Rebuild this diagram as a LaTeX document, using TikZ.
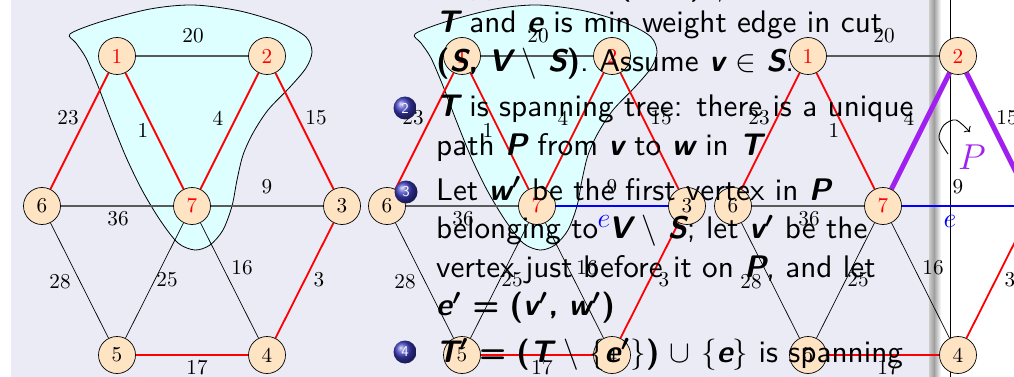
\RequirePackage{fix-cm}
\documentclass[tikz,border=0pt]{standalone}
\usepackage{amsmath}
\usetikzlibrary{arrows.meta}
\definecolor{lav}{RGB}{235,235,246}
\definecolor{bisq}{RGB}{255,228,196}
\definecolor{blobc}{RGB}{222,255,255}
\definecolor{edgegray}{RGB}{90,90,90}
\definecolor{purp}{RGB}{160,32,240}
\definecolor{ballc}{RGB}{60,60,190}
\pgfdeclarelayer{bg}
\pgfdeclarelayer{blob}
\pgfdeclarelayer{edges}
\pgfdeclarelayer{fg}
\pgfsetlayers{bg,blob,edges,main,fg}
\newcommand\numf[1]{\scalebox{2}{\fontsize{10.6}{12}\selectfont #1}}
\newcommand\sz[1]{\scalebox{3}{\sffamily\fontsize{10.4}{12}\selectfont #1}}
\tikzset{
  vtx/.style={circle, draw=black, line width=0.7pt, fill=bisq, minimum size=37pt, inner sep=0pt},
  inS/.style={text=red},
  elab/.style={inner sep=0pt},
  redE/.style={red, line width=1.8pt},
  grayE/.style={edgegray, line width=1.3pt},
  blkE/.style={black, line width=0.7pt},
  blueE/.style={blue, line width=2.8pt},
  purpE/.style={purp, line width=5pt},
  blobs/.style={draw=black, line width=0.8pt, fill=blobc},
  txt/.style={anchor=base west, inner sep=0pt},
  ballnode/.style={circle, shading=ball, ball color=ballc, minimum size=23pt, inner sep=0pt, text=white, font=\sffamily\fontsize{15}{15}\selectfont},
}
\newcommand\mv[1]{{\bfseries\slshape #1}}
\newcommand\bp[1]{{\bfseries #1}}
\newcommand\prm{\ensuremath{^{\boldsymbol{\prime}}}}
\newcommand\gnodes[2]{%
\begin{scope}[xshift=#2]
\node[vtx,inS] (#1-1) at (117,56) {\numf{1}};
\node[vtx,inS] (#1-2) at (267,56) {\numf{2}};
\node[vtx] (#1-6) at (42,206) {\numf{6}};
\node[vtx,inS] (#1-7) at (192,206) {\numf{7}};
\node[vtx] (#1-3) at (342,206) {\numf{3}};
\node[vtx] (#1-5) at (117,355) {\numf{5}};
\node[vtx] (#1-4) at (267,355) {\numf{4}};
\node[elab] (#1-w20) at (193,36) {\numf{20}};
\node[elab] (#1-w23) at (68,118) {\numf{23}};
\node[elab] (#1-w1) at (143,130) {\numf{1}};
\node[elab] (#1-w4) at (218,118) {\numf{4}};
\node[elab] (#1-w15) at (316,118) {\numf{15}};
\node[elab] (#1-w9) at (267,187) {\numf{9}};
\node[elab] (#1-w36) at (118,219) {\numf{36}};
\node[elab] (#1-w28) at (60,282) {\numf{28}};
\node[elab] (#1-w25) at (167,280) {\numf{25}};
\node[elab] (#1-w16) at (242,268) {\numf{16}};
\node[elab] (#1-w3) at (319,280) {\numf{3}};
\node[elab] (#1-w17) at (197,368) {\numf{17}};
\end{scope}}
\newcommand\blobpath{plot[smooth cycle,tension=0.5] coordinates {(70,34) (100,22) (150,9) (193,5) (240,11) (283,24) (306,37) (312,52) (306,68) (290,87) (268,110) (253,133) (243,155) (237,180) (232,206) (223,230) (210,245) (195,250) (178,243) (160,220) (142,190) (126,157) (111,120) (98,86) (86,58) (76,43)}}
\begin{document}
\begin{tikzpicture}[x=1pt,y=-1pt]
\useasboundingbox (0,0) rectangle (1014,377);
\begin{pgfonlayer}{bg}
\fill[white] (0,0) rectangle (1014,377);
\fill[lav] (11,0) rectangle (929,377);
\shade[left color=gray!40, right color=gray!75] (929,0) rectangle (934,377);
\shade[left color=gray!75, right color=white] (934,0) rectangle (941,377);
\draw[line width=0.8pt] (950,0) -- (950,377);
\end{pgfonlayer}
\begin{pgfonlayer}{blob}
\draw[blobs] \blobpath;
\begin{scope}[xshift=345pt]
\draw[blobs] \blobpath;
\end{scope}
\end{pgfonlayer}
\gnodes{A}{0pt}
\gnodes{B}{345pt}
\gnodes{C}{691pt}
\begin{pgfonlayer}{edges}
% copy A
\draw[redE] (A-1) -- (A-6);
\draw[redE] (A-1) -- (A-7);
\draw[redE] (A-2) -- (A-7);
\draw[redE] (A-2) -- (A-3);
\draw[redE] (A-3) -- (A-4);
\draw[redE] (A-4) -- (A-5);
\draw[grayE] (A-1) -- (A-2);
\draw[grayE] (A-6) -- (A-7);
\draw[grayE] (A-7) -- (A-3);
\draw[blkE] (A-6) -- (A-5);
\draw[blkE] (A-7) -- (A-5);
\draw[blkE] (A-7) -- (A-4);
% copy B
\draw[redE] (B-1) -- (B-6);
\draw[redE] (B-1) -- (B-7);
\draw[redE] (B-2) -- (B-7);
\draw[redE] (B-2) -- (B-3);
\draw[redE] (B-3) -- (B-4);
\draw[redE] (B-4) -- (B-5);
\draw[grayE] (B-1) -- (B-2);
\draw[grayE] (B-6) -- (B-7);
\draw[blueE] (B-7) -- (B-3);
\draw[blkE] (B-6) -- (B-5);
\draw[blkE] (B-7) -- (B-5);
\draw[blkE] (B-7) -- (B-4);
% copy C
\draw[redE] (C-1) -- (C-6);
\draw[redE] (C-1) -- (C-7);
\draw[purpE] (C-7) -- (C-2);
\draw[purpE] (C-2) -- (C-3);
\draw[redE] (C-3) -- (C-4);
\draw[redE] (C-4) -- (C-5);
\draw[grayE] (C-1) -- (C-2);
\draw[grayE] (C-6) -- (C-7);
\draw[blueE] (C-7) -- (C-3);
\draw[blkE] (C-6) -- (C-5);
\draw[blkE] (C-7) -- (C-5);
\draw[blkE] (C-7) -- (C-4);
\end{pgfonlayer}
\node[blue, inner sep=0pt, font=\fontsize{28}{30}\selectfont] (eB) at (604,221) {$e$};
\node[blue, inner sep=0pt, font=\fontsize{28}{30}\selectfont] (eC) at (950,221) {$e$};
\node[purp, inner sep=0pt, font=\fontsize{36}{38}\selectfont] (PC) at (972,157) {$P$};
\coordinate (arS) at (948,154);
\coordinate (arE) at (970,132);
\draw[-{To[length=4.5pt,width=9pt]}, line width=0.9pt] plot[smooth] coordinates {(arS) (939,138) (944,125) (956,120) (arE)};
\begin{pgfonlayer}{fg}
\node[txt] (t1) at (436,-5) {\sz{Suppose \mv{e} \bp{=} \bp{(}\mv{v}\bp{,} \mv{w}\bp{)} $\notin$}};
\node[txt] (t2) at (436,33) {\sz{\mv{T} and \mv{e} is min weight edge in cut}};
\node[txt] (t3) at (436,72) {\sz{\bp{(}\mv{S}\bp{,} \mv{V} $\setminus$ \mv{S}\bp{)}. Assume \mv{v} $\in$ \mv{S}.}};
\node[txt] (t4) at (436,117) {\sz{\mv{T} is spanning tree: there is a unique}};
\node[txt] (t5) at (436,155) {\sz{path \mv{P} from \mv{v} to \mv{w} in \mv{T}}};
\node[txt] (t6) at (436,200) {\sz{Let \mv{w}\prm{} be the first vertex in \mv{P}}};
\node[txt] (t7) at (436,238.5) {\sz{belonging to \mv{V} $\setminus$ \mv{S}; let \mv{v}\prm{} be the}};
\node[txt] (t8) at (436,277) {\sz{vertex just before it on \mv{P}, and let}};
\node[txt] (t9) at (436,315.5) {\sz{\mv{e}\prm{} \bp{=} \bp{(}\mv{v}\prm\bp{,} \mv{w}\prm\bp{)}}};
\node[txt] (t10) at (436,362) {\sz{\mv{T}\prm{} \bp{=} \bp{(}\mv{T} $\setminus$ $\{$\mv{e}\prm$\}$\bp{)} $\cup$ $\{$\mv{e}$\}$ is spanning}};
\node[ballnode] (b2) at (405,108) {2};
\node[ballnode] (b3) at (406,192) {3};
\node[ballnode] (b4) at (405,352) {4};
\end{pgfonlayer}
\end{tikzpicture}
\end{document}
